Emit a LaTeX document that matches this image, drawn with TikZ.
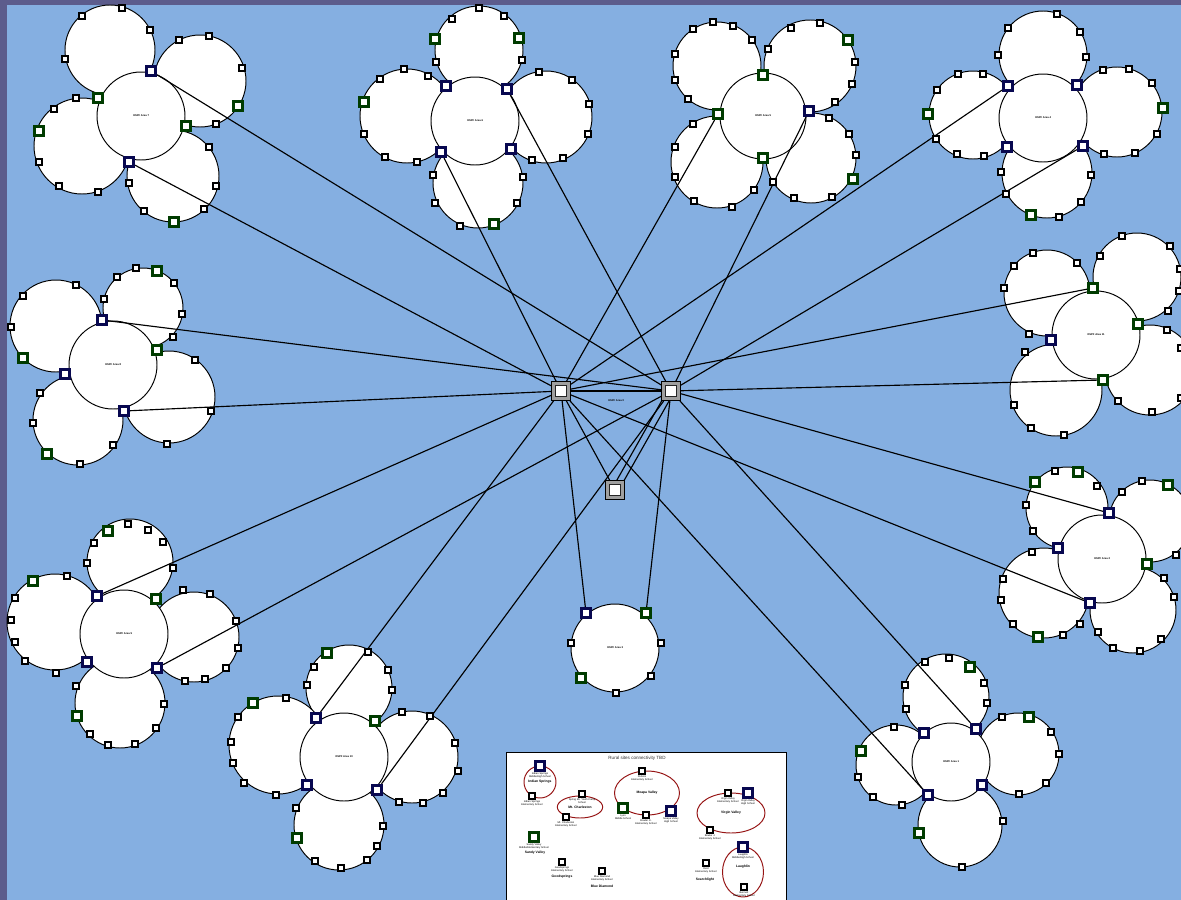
\documentclass[tikz,border=0pt]{standalone}
\usepackage{fontspec}
\setmainfont{Liberation Sans}
\definecolor{bgblue}{RGB}{133,175,225}
\definecolor{framec}{RGB}{92,92,140}
\definecolor{navy}{RGB}{8,8,80}
\definecolor{dgreen}{RGB}{0,60,0}
\definecolor{dred}{RGB}{150,20,20}
\pgfdeclarelayer{back}\pgfdeclarelayer{petals}\pgfdeclarelayer{cores}\pgfdeclarelayer{links}
\pgfsetlayers{back,petals,cores,links,main}
\tikzset{
 petal/.style={draw=black, fill=white, line width=0.55pt},
 sq/.style={rectangle, draw=black, fill=white, line width=0.85pt, minimum size=1.25mm, inner sep=0pt},
 bsq/.style={rectangle, draw=navy, fill=white, line width=1.7pt, minimum size=1.85mm, inner sep=0pt},
 gsq/.style={rectangle, draw=dgreen, fill=white, line width=1.7pt, minimum size=1.85mm, inner sep=0pt},
 hub/.style={rectangle, draw=black, fill=gray!75, line width=0.8pt, minimum size=3.7mm, inner sep=0pt},
 hubin/.style={rectangle, draw=black!85, fill=white, line width=0.45pt, minimum size=2.3mm, inner sep=0pt},
 link/.style={draw=black, line width=0.65pt},
 arealbl/.style={font=\fontsize{1.5}{1.8}\selectfont\bfseries, inner sep=0pt},
 lbl/.style={font=\fontsize{1.45}{1.7}\selectfont, align=center, inner sep=0.2pt},
 blbl/.style={font=\fontsize{1.9}{2.2}\selectfont\bfseries, inner sep=0pt},
 siteell/.style={draw=dred, line width=0.55pt},
}
\newcommand\whites[2]{\foreach \x/\y [count=\i] in {#2} \node[sq] (w#1-\i) at (\x,\y) {};}
\newcommand\greens[2]{\foreach \x/\y [count=\i] in {#2} \node[gsq] (g#1-\i) at (\x,\y) {};}
\newcommand\petalset[1]{\begin{pgfonlayer}{petals}\foreach \x/\y/\r in {#1} \draw[petal] (\x,\y) circle[radius=\r];\end{pgfonlayer}}
\newcommand\core[4]{\begin{pgfonlayer}{cores}\draw[petal] (#1,#2) circle[radius=#3];\end{pgfonlayer}\node[arealbl] (lbl#4) at (#1,#2) {OSPF Area #4};}
\begin{document}
\begin{tikzpicture}[x=0.02cm,y=-0.02cm]
\useasboundingbox (0,0) rectangle (1181,900);
\begin{pgfonlayer}{back}
\fill[framec] (0,0) rectangle (1181,900);
\fill[bgblue] (7,5) rectangle (1181,900);
\end{pgfonlayer}

% ---------- Area 7
\petalset{110/50/45,200/81/46,82/146/48,173/176/46}
\core{141}{116}{44}{7}
\node[bsq] (b7a) at (151,71) {};
\node[bsq] (b7b) at (129,162) {};
\greens{7}{98/98,186/126,238/106,39/131,174/222}
\whites{7}{82/16,122/8,150/30,65/59,179/40,209/36,242/68,216/124,76/98,54/109,39/162,59/186,98/192,209/147,216/186,204/209,144/211,129/183}

% ---------- Area 6
\petalset{479/50/44,407/116/47,546/117/46,478/183/45}
\core{475}{121}{44}{6}
\node[bsq] (b6a) at (446,86) {};
\node[bsq] (b6b) at (507,89) {};
\node[bsq] (b6c) at (441,152) {};
\node[bsq] (b6d) at (511,149) {};
\greens{6}{435/39,519/38,364/102,494/224}
\whites{6}{452/19,479/8,504/16,522/60,436/62,404/69,380/79,428/76,364/134,385/157,417/162,539/72,572/80,589/104,588/134,563/158,532/160,433/175,523/177,435/203,517/203,460/226}

% ---------- Area 5
\petalset{717/66/44,810/66/46,717/162/46,811/158/45}
\core{763}{116}{43}{5}
\node[bsq] (b5) at (809,111) {};
\node[gsq] (g5a) at (763,75) {};
\node[gsq] (g5b) at (718,114) {};
\node[gsq] (g5c) at (763,158) {};
\greens{5}{848/40,853/179}
\whites{5}{693/29,713/22,733/26,752/40,675/54,675/80,688/99,768/49,791/28,820/23,855/62,852/84,835/102,693/124,675/147,675/177,694/201,732/207,754/190,773/182,794/198,832/197,829/118,849/134,856/155}

% ---------- Area 4
\petalset{1043/55/44,973/115/44,1117/112/45,1047/173/45}
\core{1043}{118}{44}{4}
\node[bsq] (b4a) at (1008,86) {};
\node[bsq] (b4b) at (1077,85) {};
\node[bsq] (b4c) at (1007,147) {};
\node[bsq] (b4d) at (1083,146) {};
\greens{4}{928/114,1163/108,1031/215}
\whites{4}{1008/28,1057/14,1080/32,1086/57,998/55,958/74,983/74,937/90,936/139,957/154,984/156,1103/70,1129/69,1152/83,1157/134,1135/153,1104/154,1001/172,1091/175,1081/202,1059/217,1006/194}

% ---------- Area 11
\petalset{1047/293/43,1137/277/44,1056/390/46,1150/370/45}
\core{1096}{335}{44}{11}
\node[gsq] (g11a) at (1093,288) {};
\node[gsq] (g11b) at (1138,324) {};
\node[gsq] (g11c) at (1103,380) {};
\node[bsq] (b11) at (1051,340) {};
\whites{11}{1033/253,1014/266,1077/263,1004/288,1029/334,1122/236,1100/256,1170/246,1180/269,1179/291,1168/311,1167/330,1181/348,1025/352,1014/405,1031/428,1064/435,1118/401,1152/412,1181/398}

% ---------- Area 8
\petalset{56/326/46,143/308/40,169/397/46,78/420/45}
\core{113}{365}{44}{8}
\node[bsq] (b8a) at (102,320) {};
\node[bsq] (b8b) at (65,374) {};
\node[bsq] (b8c) at (124,411) {};
\greens{8}{157/350,23/358,157/271,47/454}
\whites{8}{76/285,23/296,11/327,117/277,136/268,174/283,182/314,173/337,104/299,195/360,211/411,167/444,40/393,33/423,113/445,80/464}

% ---------- Area 9
\petalset{130/562/43,55/622/48,194/637/45,120/703/45}
\core{124}{634}{44}{9}
\node[bsq] (b9a) at (97,596) {};
\node[bsq] (b9b) at (87,662) {};
\node[bsq] (b9c) at (157,668) {};
\greens{9}{156/599,33/581,108/531,77/716}
\whites{9}{128/524,148/530,163/542,173/568,94/543,87/563,67/576,15/598,11/620,15/642,25/661,56/673,183/590,210/594,236/621,238/648,226/668,205/679,185/681,76/686,164/704,156/728,135/744,108/745,90/734}

% ---------- Area 10
\petalset{349/688/43,278/745/49,412/757/46,339/825/45}
\core{344}{757}{44}{10}
\node[bsq] (b10a) at (316,718) {};
\node[bsq] (b10b) at (307,785) {};
\node[bsq] (b10c) at (377,790) {};
\greens{10}{375/721,327/653,253/703,297/838}
\whites{10}{368/652,314/667,307/685,388/670,392/690,286/698,238/717,231/742,233/763,244/783,276/795,402/712,430/716,455/743,458/771,443/793,423/803,399/802,296/808,383/826,377/846,367/860,341/868,315/861}

% ---------- Area 3
\core{615}{648}{44}{3}
\node[bsq] (b3a) at (586,613) {};
\node[gsq] (g3a) at (646,613) {};
\greens{3}{581/678}
\whites{3}{571/643,661/643,651/676,616/693}

% ---------- Area 2
\petalset{1067/508/41,1150/521/41,1044/593/45,1133/610/43}
\core{1102}{559}{44}{2}
\node[bsq] (b2a) at (1109,513) {};
\node[bsq] (b2b) at (1058,548) {};
\node[bsq] (b2c) at (1090,603) {};
\greens{2}{1147/564,1035/482,1078/472,1168/485,1038/637}
\whites{2}{1055/471,1097/486,1026/505,1033/531,1122/492,1142/481,1176/555,1032/552,1003/579,1001/600,1013/624,1063/635,1080/624,1164/578,1174/597,1161/639,1140/651,1113/648,1098/632}

% ---------- Area 1
\petalset{946/697/43,896/765/40,1018/754/41,960/825/42}
\core{951}{762}{39}{1}
\node[bsq] (b1a) at (976,729) {};
\node[bsq] (b1b) at (924,733) {};
\node[bsq] (b1c) at (928,795) {};
\node[bsq] (b1d) at (982,785) {};
\greens{1}{970/667,1029/717,861/751,919/833}
\whites{1}{925/662,949/658,984/683,987/703,905/685,906/709,894/727,858/777,873/797,902/805,1002/717,1051/732,1059/754,1046/783,1019/794,1003/821,962/867}

% ---------- backbone
\node[hub] (hubA) at (561,391) {};
\node[hubin] (hubAi) at (561,391) {};
\node[hub] (hubB) at (671,391) {};
\node[hubin] (hubBi) at (671,391) {};
\node[hub] (hubC) at (615,490) {};
\node[hubin] (hubCi) at (615,490) {};
\node[arealbl] (lbl0) at (616,401) {OSPF Area 0};

\begin{pgfonlayer}{links}
\foreach \n in {b7b,b6c,b8c,b9a,b10a,g5b,b4a,g11a,b3a,b2c,b1c,hubC}
  \draw[link] (\n) -- (hubA);
\foreach \n in {b7a,b6b,b8a,b9c,b10c,b5,b4d,g11c,b2a,b1a,g3a,hubA}
  \draw[link] (\n) -- (hubB);
\draw[link] ([shift={(2.8,1.6)}]hubC.center) -- ([shift={(2.8,1.6)}]hubB.center);
\draw[link] ([shift={(-2.8,-1.6)}]hubC.center) -- ([shift={(-2.8,-1.6)}]hubB.center);
\end{pgfonlayer}

% ---------- legend
\begin{pgfonlayer}{cores}
\draw[fill=white, line width=0.4pt] (506,752) rectangle (786,906);
\draw[siteell] (540,782) circle[radius=16];
\draw[siteell] (580,807) ellipse[x radius=22.7, y radius=11];
\draw[siteell] (647,793) ellipse[x radius=32.5, y radius=22];
\draw[siteell] (731,813) ellipse[x radius=34, y radius=20];
\draw[siteell] (743,872) ellipse[x radius=20.5, y radius=25];
\end{pgfonlayer}
\node[font=\fontsize{2.6}{3}\selectfont, text=black!80, inner sep=0pt] (ltitle) at (637,758) {Rural sites connectivity TBD};

\node[bsq, label={[lbl]below:{Indian Springs\\Middle/High School}}] (lis1) at (540,766) {};
\node[blbl] (lisn) at (540,782) {Indian Springs};
\node[sq, label={[lbl]below:{Indian Springs\\Elementary School}}] (lis2) at (532,796) {};

\node[blbl] (lmcn) at (580,807) {Mt. Charleston};
\node[sq, label={[lbl]below:{Spring Mt. Youth Camp\\School}}] (lmc1) at (582,794) {};
\node[sq, label={[lbl]below:{Mt. Charleston\\Elementary School}}] (lmc2) at (566,817) {};

\node[blbl] (lmvn) at (647,793) {Moapa Valley};
\node[sq, label={[lbl]below:{Perkins\\Elementary School}}] (lmv1) at (642,771) {};
\node[gsq, label={[lbl]below:{Lyon\\Middle School}}] (lmv2) at (623,808) {};
\node[sq, label={[lbl]below:{Bowler Jr.\\Elementary School}}] (lmv3) at (646,815) {};
\node[bsq, label={[lbl]below:{Moapa Valley\\High School}}] (lmv4) at (671,811) {};

\node[blbl] (lvvn) at (731,813) {Virgin Valley};
\node[sq, label={[lbl]below:{Virgin Valley\\Elementary School}}] (lvv1) at (728,793) {};
\node[bsq, label={[lbl]below:{Virgin Valley\\High School}}] (lvv2) at (748,793) {};
\node[sq, label={[lbl]below:{Bowler J.\\Elementary School}}] (lvv3) at (710,830) {};

\node[blbl] (lln) at (743,867) {Laughlin};
\node[bsq, label={[lbl]below:{Laughlin\\Middle/High School}}] (ll1) at (743,847) {};
\node[sq, label={[lbl]below:{Bennett\\Elementary School}}] (ll2) at (744,887) {};

\node[gsq, label={[lbl]below:{Sandy Valley\\Middle/Elementary School}}] (lsv1) at (534,837) {};
\node[blbl] (lsvn) at (535,853) {Sandy Valley};
\node[sq, label={[lbl]below:{Goodsprings\\Elementary School}}] (lgs1) at (562,862) {};
\node[blbl] (lgsn) at (562,877) {Goodsprings};
\node[sq, label={[lbl]below:{Blue Diamond\\Elementary School}}] (lbd1) at (602,871) {};
\node[blbl] (lbdn) at (602,886) {Blue Diamond};
\node[sq, label={[lbl]below:{Reid\\Elementary School}}] (lsl1) at (706,863) {};
\node[blbl] (lsln) at (705,880) {Searchlight};
\end{tikzpicture}
\end{document}
